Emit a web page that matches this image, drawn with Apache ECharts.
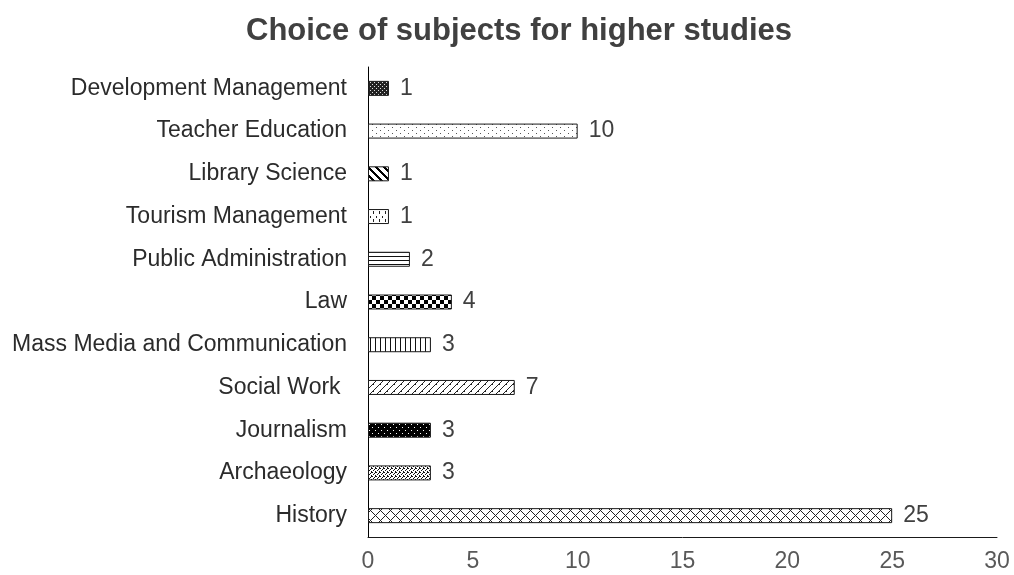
<!DOCTYPE html>
<html>
<head>
<meta charset="utf-8">
<script src="https://cdn.jsdelivr.net/npm/echarts@6/dist/echarts.min.js"></script>
<style>
  html, body { margin: 0; padding: 0; background: #fff; }
  #chart { width: 1014px; height: 575px; }
</style>
</head>
<body>
<div id="chart"></div>
<script>
// Subjects, bottom to top
const categories = [
  'History', 'Archaeology', 'Journalism', 'Social Work ',
  'Mass Media and Communication', 'Law', 'Public Administration',
  'Tourism Management', 'Library Science', 'Teacher Education',
  'Development Management'
];
const counts = [25, 3, 3, 7, 3, 4, 2, 1, 1, 10, 1];
const xTicks = { min: 0, max: 30, step: 5 };

// Small monochrome tiles used as fill patterns
function tile(w, h, bg, fg, pixels) {
  const c = document.createElement('canvas');
  c.width = w; c.height = h;
  const g = c.getContext('2d');
  g.fillStyle = bg; g.fillRect(0, 0, w, h);
  g.fillStyle = fg;
  for (let y = 0; y < h; y++)
    for (let x = 0; x < w; x++)
      if (pixels(x, y)) g.fillRect(x, y, 1, 1);
  return { image: c, repeat: 'repeat' };
}
const mod = (a, n) => ((a % n) + n) % n;

const patterns = {
  'History': tile(10, 10, '#fff', '#222', (x, y) => mod(x - y, 10) === 0 || mod(x + y, 10) === 0),
  'Archaeology': tile(4, 4, '#fff', '#111', (x, y) => (x === 0 && y === 0) || (x === 2 && y === 1) || (x === 1 && y === 2) || (x === 3 && y === 3) || (x === 3 && y === 0)),
  'Journalism': tile(6, 6, '#000', '#fff', (x, y) => (x === 0 && y === 1) || (x === 3 && y === 4)),
  'Social Work ': tile(7, 7, '#fff', '#222', (x, y) => mod(x + y, 7) === 0 || (mod(x + y, 7) === 1 && y === 6)),
  'Mass Media and Communication': tile(5, 1, '#fff', '#111', (x) => x === 0),
  'Law': tile(8, 8, '#fff', '#000', (x, y) => ((x < 4) !== (y < 4))),
  'Public Administration': tile(1, 4, '#fff', '#111', (x, y) => y === 0),
  'Tourism Management': tile(6, 8, '#fff', '#222', (x, y) => (x === 1 && y >= 3 && y <= 5) || (x === 4 && y >= 0 && y <= 1)),
  'Library Science': tile(8, 8, '#fff', '#000', (x, y) => mod(x - y, 8) < 3),
  'Teacher Education': tile(8, 6, '#fff', '#555', (x, y) => (x === 0 && y === 1) || (x === 4 && y === 4)),
  'Development Management': tile(4, 4, '#222', '#ddd', (x, y) => (x === 0 && y === 0) || (x === 2 && y === 2))
};

const data = counts.map((v, i) => ({
  value: v,
  itemStyle: { color: patterns[categories[i]] }
}));

const chart = echarts.init(document.getElementById('chart'), null, { renderer: 'canvas' });
chart.setOption({
  animation: false,
  backgroundColor: '#fff',
  textStyle: { fontFamily: 'Liberation Sans, Arial, sans-serif' },
  title: {
    text: 'Choice of subjects for higher studies',
    left: 241,
    top: 11,
    textStyle: { fontSize: 31, fontWeight: 'bold', color: '#404040', fontFamily: 'Liberation Sans, Arial, sans-serif' }
  },
  grid: { left: 368, right: 17, top: 67, bottom: 38, containLabel: false },
  xAxis: {
    type: 'value',
    min: xTicks.min, max: xTicks.max, interval: xTicks.step,
    axisLine: { show: true, lineStyle: { color: '#1a1a1a', width: 1 } },
    axisTick: { show: false },
    splitLine: { show: false },
    axisLabel: { fontSize: 23, color: '#595959', margin: 13 }
  },
  yAxis: {
    type: 'category',
    data: categories,
    axisLine: { show: true, lineStyle: { color: '#000', width: 1 } },
    axisTick: { show: false },
    axisLabel: { fontSize: 23, color: '#2b2b2b', margin: 21 }
  },
  series: [{
    type: 'bar',
    data: data,
    barWidth: 15,
    itemStyle: { borderColor: '#1a1a1a', borderWidth: 1 },
    label: {
      show: true, position: 'right', distance: 11,
      fontSize: 23, color: '#404040'
    }
  }]
});
</script>
</body>
</html>
